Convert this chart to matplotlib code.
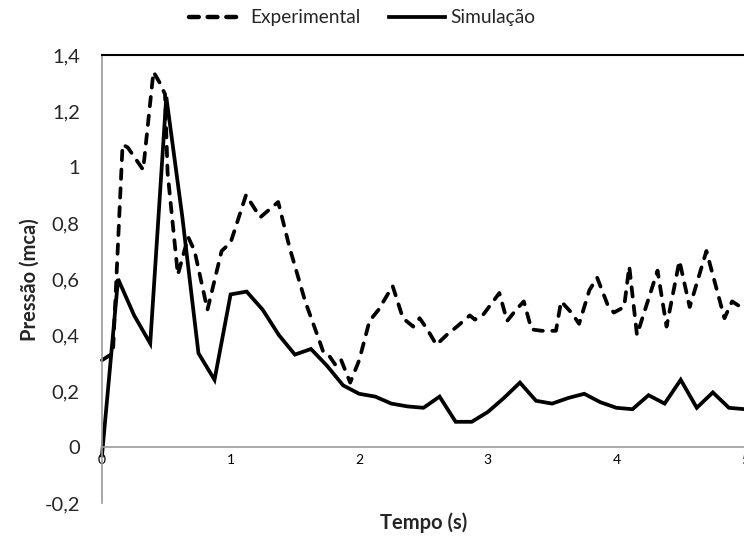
import matplotlib
matplotlib.use("Agg")
import matplotlib.pyplot as plt
from matplotlib.lines import Line2D

# Experimental series (time s, pressure mca)
exp_t = [0.0, 0.085, 0.16, 0.20, 0.32, 0.40, 0.45, 0.49, 0.51, 0.59, 0.67, 0.72,
         0.82, 0.93, 1.00, 1.12, 1.23, 1.37, 1.46, 1.58, 1.69, 1.72, 1.76, 1.82,
         1.86, 1.93, 2.00, 2.08, 2.15, 2.26, 2.34, 2.42, 2.47, 2.53, 2.60, 2.68,
         2.76, 2.86, 2.90, 2.96, 3.09, 3.15, 3.22, 3.28, 3.34, 3.42, 3.53, 3.57,
         3.65, 3.71, 3.79, 3.85, 3.93, 3.98, 4.06, 4.10, 4.16, 4.32, 4.39, 4.49,
         4.57, 4.70, 4.84, 4.90, 5.00]
exp_p = [0.31, 0.335, 1.08, 1.07, 0.99, 1.34, 1.30, 1.26, 0.98, 0.615, 0.75, 0.70,
         0.49, 0.70, 0.73, 0.90, 0.82, 0.875, 0.71, 0.52, 0.38, 0.34, 0.33, 0.29,
         0.31, 0.23, 0.31, 0.45, 0.49, 0.575, 0.46, 0.43, 0.46, 0.42, 0.365, 0.40,
         0.43, 0.47, 0.455, 0.47, 0.55, 0.45, 0.49, 0.52, 0.42, 0.415, 0.415, 0.52,
         0.48, 0.44, 0.56, 0.605, 0.51, 0.48, 0.50, 0.645, 0.40, 0.63, 0.43, 0.665,
         0.50, 0.70, 0.46, 0.52, 0.49]

# Simulation series
sim_t = [i * 0.125 for i in range(41)]
sim_p = [-0.03, 0.60, 0.47, 0.37, 1.25, 0.82, 0.335, 0.24, 0.545, 0.555,
         0.49, 0.40, 0.33, 0.35, 0.29, 0.22, 0.19, 0.18, 0.155, 0.145,
         0.14, 0.18, 0.09, 0.09, 0.125, 0.175, 0.23, 0.165, 0.155, 0.175,
         0.19, 0.16, 0.14, 0.135, 0.185, 0.155, 0.24, 0.14, 0.195, 0.14, 0.135]

yticks = [-0.2, 0, 0.2, 0.4, 0.6, 0.8, 1.0, 1.2, 1.4]
ytick_labels = ["-0,2", "0", "0,2", "0,4", "0,6", "0,8", "1", "1,2", "1,4"]
xticks = [0, 1, 2, 3, 4, 5]
xtick_labels = ["0", "1", "2", "3", "4", "5"]

plt.rcParams['font.family'] = ['Lato', 'DejaVu Sans']
fs_tick = 14.5
fs_lab = 14.5
fs_leg = 13.8

fig = plt.figure(figsize=(7.44, 5.38), dpi=100)
ax = fig.add_axes([102/744, 35/538, 643/744, 448/538])

lw = 2.7
dash = (0, (2.5, 2.5))
ax.plot(exp_t, exp_p, color='black', lw=lw, linestyle=dash,
        dash_capstyle='round', solid_joinstyle='round', label='Experimental', clip_on=False)
ax.plot(sim_t, sim_p, color='black', lw=lw, solid_joinstyle='miter',
        label='Simulação', clip_on=False)

ax.set_xlim(0, 5)
ax.set_ylim(-0.2, 1.4)
ax.set_yticks(yticks)
ax.set_yticklabels(ytick_labels, fontsize=fs_tick, color='#262626')
ax.set_xticks(xticks)
ax.set_xticklabels(xtick_labels, fontsize=fs_tick, color='#262626')
for lbl in ax.get_xticklabels():
    lbl.set_clip_on(False)
ax.tick_params(axis='both', length=0)
ax.tick_params(axis='y', pad=16)
ax.tick_params(axis='x', pad=5)

ax.spines['bottom'].set_position(('data', 0))
ax.spines['bottom'].set_color('#9a9a9a')
ax.spines['bottom'].set_linewidth(1.2)
ax.spines['left'].set_color('#9a9a9a')
ax.spines['left'].set_linewidth(1.2)
ax.spines['right'].set_visible(False)
ax.spines['top'].set_color('black')
ax.spines['top'].set_linewidth(1.5)

fig.text(424/744, 1 - 523/538, 'Tempo (s)', ha='center', va='center',
         fontsize=fs_lab, fontweight='bold', color='#262626')
fig.text(30/744, 1 - 280/538, 'Pressão (mca)', ha='center', va='center',
         rotation=90, fontsize=fs_lab, fontweight='bold', color='#262626')

handles = [Line2D([], [], color='black', lw=lw + 0.5, linestyle=(0, (2.2, 2.0)), dash_capstyle='round'),
           Line2D([], [], color='black', lw=lw)]
fig.legend(handles, ['Experimental', 'Simulação'], loc='center',
           bbox_to_anchor=(362/744, 1 - 18/538), ncol=2, frameon=False,
           fontsize=fs_leg, handlelength=2.9, handletextpad=0.3, columnspacing=1.5,
           labelcolor='#262626')

fig.savefig('out.png', dpi=100)
